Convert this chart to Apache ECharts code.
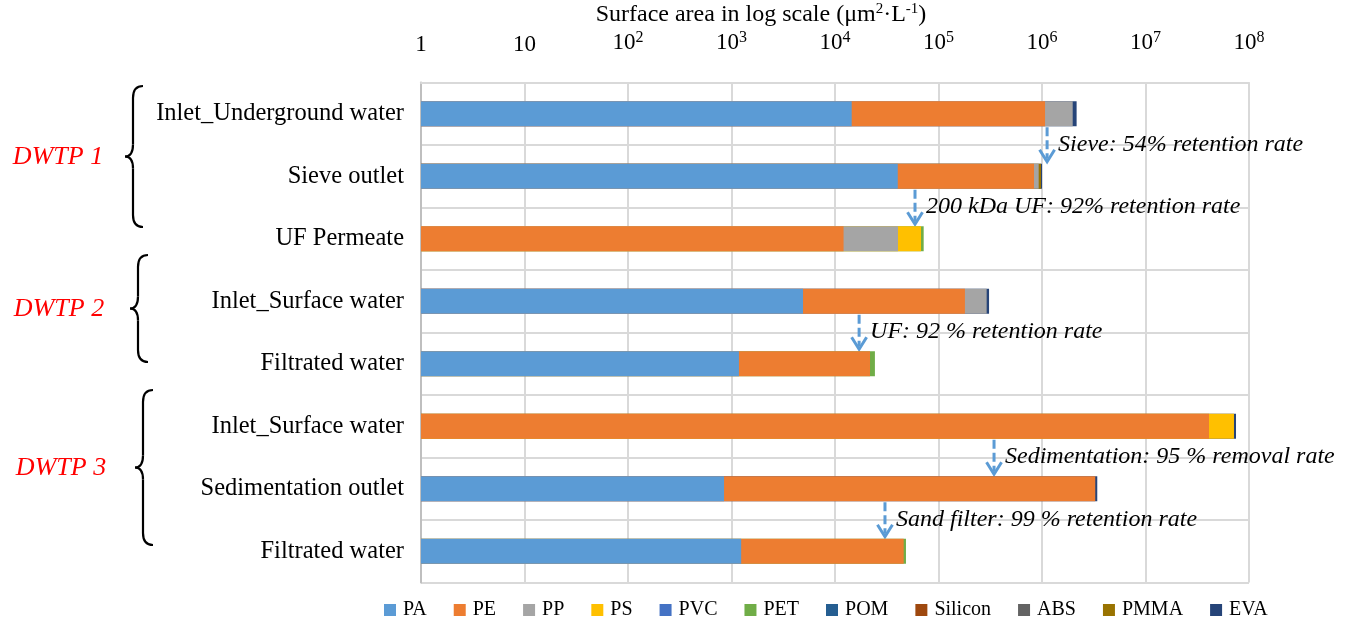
<!DOCTYPE html>
<html>
<head>
<meta charset="utf-8">
<script src="https://cdn.jsdelivr.net/npm/echarts@6/dist/echarts.min.js"></script>
<style>
html,body{margin:0;padding:0;background:#fff;}
#chart{width:1347px;height:622px;}
</style>
</head>
<body>
<div id="chart"></div>
<script>
// ---- data ----
const categories = ['Inlet_Underground water','Sieve outlet','UF Permeate','Inlet_Surface water','Filtrated water','Inlet_Surface water ','Sedimentation outlet','Filtrated water '];
const polymers = ['PA','PE','PP','PS','PVC','PET','POM','Silicon','ABS','PMMA','EVA'];
const colors = ['#5B9BD5','#ED7D31','#A5A5A5','#FFC000','#4472C4','#70AD47','#255E91','#9E480E','#636363','#997300','#264478'];
// segment surface areas (µm²·L⁻¹) per category
const PA      = [14500, 40400, 0, 4910, 1180, 0, 847, 1240];
const PE      = [1055500, 796600, 12100, 175090, 20620, 41100000, 3269153, 44860];
const PP      = [910000, 92000, 28500, 112000, 0, 0, 0, 0];
const PS      = [0, 0, 27200, 0, 0, 30500000, 0, 0];
const PVC     = [0, 0, 0, 0, 0, 0, 0, 0];
const PET     = [0, 0, 4100, 0, 2500, 0, 0, 2400];
const POM     = [0, 0, 0, 0, 0, 0, 0, 0];
const Silicon = [0, 0, 0, 0, 0, 0, 0, 0];
const ABS     = [0, 0, 0, 0, 0, 0, 0, 0];
const PMMA    = [0, 49000, 0, 0, 0, 0, 0, 0];
const EVA     = [180000, 22000, 0, 16000, 0, 3300000, 150000, 0];
const segments = [PA, PE, PP, PS, PVC, PET, POM, Silicon, ABS, PMMA, EVA];
const tickLabels = {1:'1', 10:'10', 100:'10{s|2}', 1000:'10{s|3}', 10000:'10{s|4}', 100000:'10{s|5}', 1000000:'10{s|6}', 10000000:'10{s|7}', 100000000:'10{s|8}'};
const axisTitle = 'Surface area in log scale (μm{s|2}·L{s|-1})';
const groupNames = ['DWTP 1', 'DWTP 2', 'DWTP 3'];
const annotations = [
  {x:1.12e6, after:0, text:'Sieve: 54% retention rate'},
  {x:5.93e4, after:1, text:'200 kDa UF: 92% retention rate'},
  {x:1.71e4, after:3, text:'UF: 92 % retention rate'},
  {x:3.44e5, after:5, text:'Sedimentation: 95 % removal rate'},
  {x:3.04e4, after:6, text:'Sand filter: 99 % retention rate'}
];

const FONT = '"Liberation Serif","Times New Roman",serif';
const chart = echarts.init(document.getElementById('chart'));

// cumulative totals -> overlaid bars (drawn largest first)
const cum = categories.map(()=>0);
const cumSeries = segments.map(seg => seg.map((v,i)=>{ cum[i]+=v; return v>0 ? cum[i] : '-'; }));
const series = [];
for (let k = polymers.length-1; k >= 0; k--) {
  series.push({
    name: polymers[k], type:'bar', barWidth:25, barGap:'-100%',
    itemStyle:{color:colors[k]}, data: cumSeries[k], silent:true
  });
}

chart.setOption({
  animation:false,
  textStyle:{fontFamily:FONT},
  title:{
    text: axisTitle, left:761, top:2, textAlign:'center', padding:0,
    textStyle:{fontFamily:FONT, fontSize:24, fontWeight:'normal', color:'#000',
      rich:{s:{fontFamily:FONT, fontSize:15, padding:[0,0,10,0], color:'#000'}}}
  },
  grid:{left:421, right:98, top:82.5, bottom:39.5, containLabel:false, outerBoundsMode:'none'},
  legend:{
    data: polymers, top:600, left:384, padding:0,
    itemWidth:12, itemHeight:12, itemGap:27, icon:'rect',
    textStyle:{fontFamily:FONT, fontSize:20, color:'#000', padding:[0,0,0,2]}
  },
  xAxis:{
    type:'log', logBase:10, min:1, max:1e8, position:'top',
    axisLine:{show:true, lineStyle:{color:'#D9D9D9', width:2}},
    axisTick:{show:false},
    splitLine:{show:true, lineStyle:{color:'#D9D9D9', width:2}},
    axisLabel:{
      fontFamily:FONT, fontSize:23, color:'#000', margin:26,
      formatter: v => tickLabels[Math.round(v)] || '',
      rich:{s:{fontFamily:FONT, fontSize:16, padding:[0,0,11,0], color:'#000'}}
    }
  },
  yAxis:{
    type:'category', data:categories, inverse:true,
    axisLine:{show:true, lineStyle:{color:'#BFBFBF', width:2}},
    axisTick:{show:false},
    splitLine:{show:true, lineStyle:{color:'#D9D9D9', width:2}},
    axisLabel:{fontFamily:FONT, fontSize:24.5, color:'#000', margin:17, formatter: v => v.trim()}
  },
  series: series
});

// ---- annotations, braces and group labels ----
const graphics = [];
const yc = i => chart.convertToPixel({yAxisIndex:0}, categories[i]);
const halfBar = 12.5;
annotations.forEach(a => {
  const x = chart.convertToPixel({xAxisIndex:0}, a.x);
  const y0 = yc(a.after) + halfBar + 1;
  const y1 = yc(a.after+1) - halfBar - 2;
  graphics.push({type:'line', silent:true, shape:{x1:x, y1:y0, x2:x, y2:y1-3},
    style:{stroke:'#5B9BD5', lineWidth:3, lineDash:[9,4]}});
  graphics.push({type:'polyline', silent:true, shape:{points:[[x-7.5,y1-12],[x,y1],[x+7.5,y1-12]]},
    style:{stroke:'#5B9BD5', lineWidth:3, fill:null}});
  graphics.push({type:'text', silent:true, x:x+11, y:(y0+y1)/2,
    style:{text:a.text, font:'italic 24px '+FONT, fill:'#000', textVerticalAlign:'middle', textAlign:'left'}});
});
// decorative braces (pixel layout)
const braces = [
  {top:86, bot:227, xs:133, lx:58},
  {top:255, bot:362, xs:138, lx:59},
  {top:390, bot:545, xs:143, lx:61}
];
braces.forEach((b, gi) => {
  const mid = (b.top+b.bot)/2, xs = b.xs, xr = xs+10, xl = xs-8, r = 12;
  const st = {stroke:'#000', lineWidth:2.2, fill:null};
  graphics.push({type:'bezierCurve', silent:true, shape:{x1:xr, y1:b.top, cpx1:xs, cpy1:b.top, x2:xs, y2:b.top+r}, style:st});
  graphics.push({type:'line', silent:true, shape:{x1:xs, y1:b.top+r, x2:xs, y2:mid-r}, style:st});
  graphics.push({type:'bezierCurve', silent:true, shape:{x1:xs, y1:mid-r, cpx1:xs, cpy1:mid, x2:xl, y2:mid}, style:st});
  graphics.push({type:'bezierCurve', silent:true, shape:{x1:xl, y1:mid, cpx1:xs, cpy1:mid, x2:xs, y2:mid+r}, style:st});
  graphics.push({type:'line', silent:true, shape:{x1:xs, y1:mid+r, x2:xs, y2:b.bot-r}, style:st});
  graphics.push({type:'bezierCurve', silent:true, shape:{x1:xs, y1:b.bot-r, cpx1:xs, cpy1:b.bot, x2:xr, y2:b.bot}, style:st});
  graphics.push({type:'text', silent:true, x:b.lx, y:mid+1,
    style:{text:groupNames[gi], font:'italic 26px '+FONT, fill:'#FF0000', textAlign:'center', textVerticalAlign:'middle'}});
});
chart.setOption({graphic: graphics});
</script>
</body>
</html>
